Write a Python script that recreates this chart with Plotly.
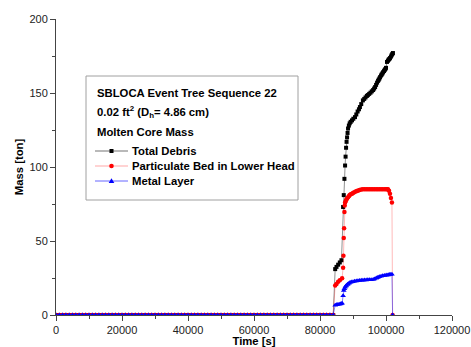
import plotly.graph_objects as go

# ---- data ----
t_zero = list(range(0, 84001, 1000))          # all series sit at 0 before the jump
zeros = [0] * len(t_zero)

t_total = [84600, 85000, 85500, 86000, 86500, 87000, 87200, 87400, 87600, 87750,
           87900, 88050, 88200, 88350, 88500, 88750, 89000, 89300, 89700, 90100,
           90600, 91000, 91400, 91800, 92100, 92500, 93000, 93400, 93800, 94200,
           94500, 94900, 95300, 95700, 96100, 96400, 96700, 97000, 97300, 97600,
           97800, 98000, 98200, 98500, 98700, 98900, 99100, 99400, 99600, 99800,
           100000, 100300, 100600, 100800, 101000, 101200, 101500, 101700, 101900, 102100]
m_total = [31, 32.5, 34, 35.5, 37, 73, 81, 92, 101, 107,
           113, 117, 120, 123, 126, 128, 129.5, 130.5, 131.5, 132.6,
           133.7, 135.5, 137.5, 139, 140.5, 142.5, 145, 146, 147, 148,
           148.6, 149.4, 150.2, 151.1, 152, 153, 154, 155.5, 157, 158.2,
           159, 159.8, 160.7, 161.8, 162.5, 163.2, 164, 164.8, 165.5, 166.2,
           167, 171, 171.8, 172.5, 173, 173.6, 174.6, 175.5, 176.3, 177]

t_part = [84600, 85000, 85500, 86000, 86700, 87000, 87100, 87200, 87300, 87400,
          87500, 87600, 87800, 88000, 88200, 88500, 88800, 89000, 89300, 89700,
          90000, 90400, 90800, 91200, 91600, 92000, 92500, 93000, 93500, 94000,
          94500, 95000, 95500, 96000, 96500, 97000, 97500, 98000, 98500, 99000,
          99500, 100000, 100300, 100600, 100900, 101200, 101500, 101800, 102000]
m_part = [20, 21, 22.5, 23.5, 24.8, 32, 40, 52, 58.6, 69.6,
          74, 76, 77, 78, 78.8, 79.6, 80.4, 81, 81.6, 82,
          82.5, 83, 83.4, 83.8, 84.1, 84.5, 84.8, 85, 85, 85,
          85, 85, 85, 85, 85, 85, 85, 85, 85, 85,
          85, 85, 85, 85, 84, 82, 79, 76, 0]

t_metal = [84600, 85000, 85400, 85800, 86200, 86400, 86700, 87000, 87200, 87400,
           87600, 87800, 88000, 88300, 88500, 88800, 89100, 89500, 90000, 90500,
           91000, 91500, 92000, 92500, 93000, 93500, 94000, 94500, 95000, 95500,
           96100, 96500, 97000, 97300, 97600, 98000, 98500, 99000, 99500, 100000,
           100300, 100700, 101000, 101400, 101800, 102000]
m_metal = [6.6, 6.9, 7.1, 7.3, 7.5, 7.6, 7.9, 13, 16.5, 17.8,
           18.7, 19.4, 20, 20.6, 21, 21.5, 22, 22.3, 22.5, 22.8,
           23, 23.1, 23.3, 23.4, 23.5, 23.6, 23.7, 23.75, 23.8, 23.9,
           24, 24.3, 24.8, 25.1, 25.5, 25.8, 26.2, 26.5, 26.7, 26.9,
           27, 27.1, 27.3, 27.4, 27.5, 0]

names = ["Total Debris", "Particulate Bed in Lower Head", "Metal Layer"]
legend_title = ["SBLOCA Event Tree Sequence 22",
                "0.02 ft<sup>2</sup> (D<sub>h</sub>= 4.86 cm)",
                "Molten Core Mass"]
x_ticks = [0, 20000, 40000, 60000, 80000, 100000, 120000]
y_ticks = [0, 50, 100, 150, 200]

FONT = "Liberation Sans, Arial, sans-serif"
colors = ["black", "red", "blue"]
line_colors = ["rgba(0,0,0,0.55)", "rgba(255,0,0,0.35)", "rgba(0,0,255,0.6)"]
symbols = ["square", "circle", "triangle-up"]
sizes = [4, 4.5, 5]

fig = go.Figure()
for tt, mm, nm, c, lc, sy, sz in zip([t_total, t_part, t_metal], [m_total, m_part, m_metal],
                                     names, colors, line_colors, symbols, sizes):
    fig.add_trace(go.Scatter(
        x=t_zero + tt, y=zeros + mm, name=nm, mode="lines+markers", showlegend=False,
        line=dict(color=lc, width=0.8),
        marker=dict(symbol=sy, size=sz, color=c, line=dict(width=0))))

# ---- figure geometry (body margin removed by post_script) ----
W, H = 471, 347
ML, MR, MT, MB = 56, 19, 19, 32
PW, PH = W - ML - MR, H - MT - MB


def px(xp):   # page pixel x -> paper
    return (xp - ML) / PW


def py(yp):   # page pixel y -> paper
    return 1 - (yp - MT) / PH


shapes = []
annotations = []
# legend box
shapes.append(dict(type="rect", xref="paper", yref="paper", x0=px(86), x1=px(298),
                   y0=py(200), y1=py(76), line=dict(color="#a0a0a0", width=1),
                   fillcolor="white", layer="above"))
for txt, yy in zip(legend_title, [93, 112, 132]):
    annotations.append(dict(text=txt, xref="paper", yref="paper", x=px(95), y=py(yy),
                            xanchor="left", yanchor="middle", showarrow=False,
                            font=dict(family=FONT, size=11.3, color="black", weight="bold")))
for i, (nm, yy) in enumerate(zip(names, [151, 166, 181])):
    shapes.append(dict(type="line", xref="paper", yref="paper", x0=px(95), x1=px(128),
                       y0=py(yy), y1=py(yy), line=dict(color=line_colors[i], width=1),
                       layer="above"))
    cx, cy = 111.5, yy
    if symbols[i] == "square":
        shapes.append(dict(type="rect", xref="paper", yref="paper", x0=px(cx - 2), x1=px(cx + 2),
                           y0=py(cy + 2), y1=py(cy - 2), fillcolor=colors[i],
                           line=dict(width=0), layer="above"))
    elif symbols[i] == "circle":
        shapes.append(dict(type="circle", xref="paper", yref="paper", x0=px(cx - 2.3), x1=px(cx + 2.3),
                           y0=py(cy + 2.3), y1=py(cy - 2.3), fillcolor=colors[i],
                           line=dict(width=0), layer="above"))
    else:
        path = "M {} {} L {} {} L {} {} Z".format(px(cx - 2.8), py(cy + 2), px(cx + 2.8), py(cy + 2),
                                                 px(cx), py(cy - 2.8))
        shapes.append(dict(type="path", xref="paper", yref="paper", path=path,
                           fillcolor=colors[i], line=dict(width=0), layer="above"))
    annotations.append(dict(text=nm, xref="paper", yref="paper", x=px(130), y=py(yy),
                            xanchor="left", yanchor="middle", showarrow=False,
                            font=dict(family=FONT, size=11.3, color="black", weight="bold")))

fig.update_layout(
    width=W, height=H,
    margin=dict(l=ML, r=MR, t=MT, b=MB),
    paper_bgcolor="white", plot_bgcolor="white",
    font=dict(family=FONT, size=11, color="#222"),
    showlegend=False,
    shapes=shapes, annotations=annotations,
)
fig.update_xaxes(
    range=[0, 120000], tickvals=x_ticks, ticktext=[str(v) for v in x_ticks],
    ticks="outside", ticklen=5, tickcolor="#444", showline=True, linecolor="#444",
    linewidth=1, showgrid=False, zeroline=False, ticklabeloverflow="allow",
    minor=dict(ticks="outside", ticklen=3, dtick=10000, tickcolor="#444", showgrid=False),
    title=dict(text="Time [s]", font=dict(family=FONT, size=11.3, color="black", weight="bold"), standoff=11),
    automargin=False, tickfont=dict(size=11, color="#222"))
fig.update_yaxes(
    range=[0, 200], tickvals=y_ticks, ticktext=[str(v) for v in y_ticks],
    ticks="outside", ticklen=5, tickcolor="#444", showline=True, linecolor="#444",
    linewidth=1, showgrid=False, zeroline=False, ticklabeloverflow="allow",
    minor=dict(ticks="outside", ticklen=3, dtick=25, tickcolor="#444", showgrid=False),
    title=dict(text="Mass [ton]", font=dict(family=FONT, size=11.3, color="black", weight="bold"), standoff=3),
    automargin=False, tickfont=dict(size=11, color="#222"))

fig.write_html("out.html", config={"displayModeBar": False},
               post_script="document.body.style.margin='0px';document.body.style.overflow='hidden';")
